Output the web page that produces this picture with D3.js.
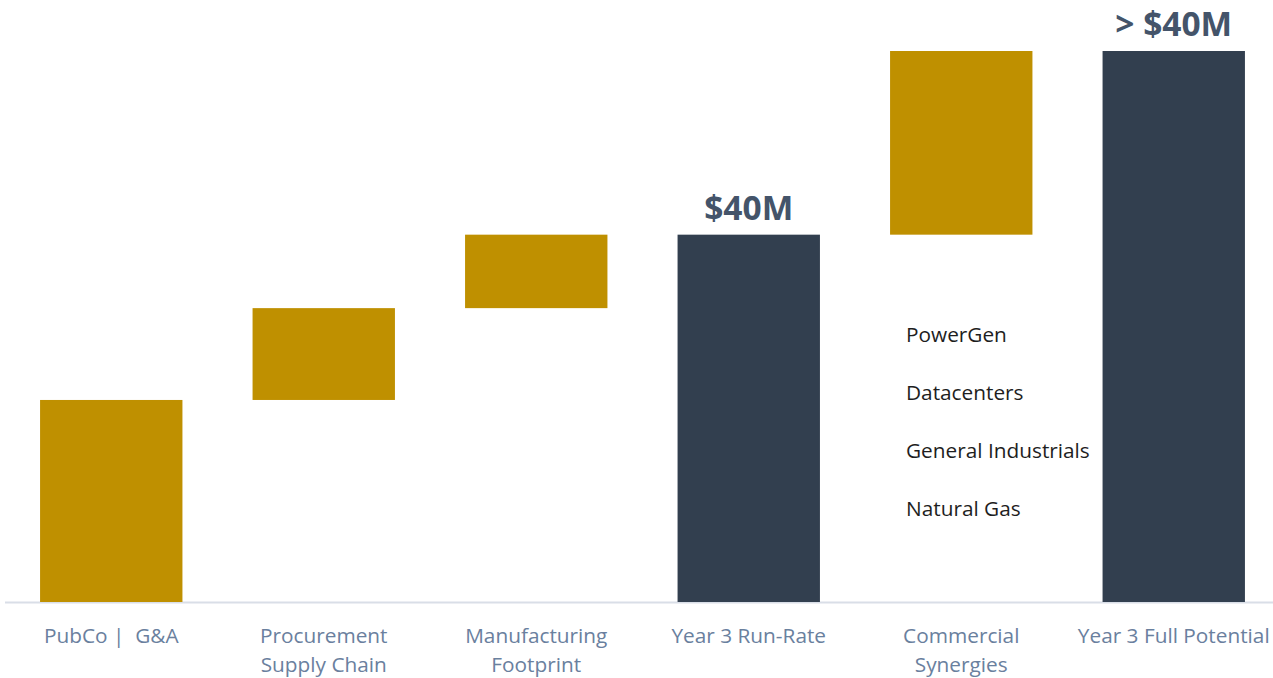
<!DOCTYPE html>
<html>
<head>
<meta charset="utf-8">
<script src="https://cdn.jsdelivr.net/npm/d3@7"></script>
<style>
  html, body { margin: 0; padding: 0; background: #fff; }
  svg { display: block; font-family: "Open Sans", "Noto Sans", sans-serif; }
</style>
</head>
<body>
<svg id="chart" width="1273" height="678"></svg>
<script>
// waterfall steps ($M); totals are drawn from zero
var categories = ['PubCo |  G&A', 'Procurement\nSupply Chain', 'Manufacturing\nFootprint',
                  'Year 3 Run-Rate', 'Commercial\nSynergies', 'Year 3 Full Potential'];
var stepValues = [22, 10, 8, null, 20, null];   // null = running total bar
var totalLabels = ['', '', '', '$40M', '', '> $40M'];
var synergyItems = ['PowerGen', 'Datacenters', 'General Industrials', 'Natural Gas'];

var svg = d3.select('#chart'),
    W = 1273, H = 678,
    baseY = 602;

// build floating bars from the steps
var running = 0,
    bars = categories.map(function(cat, i) {
      var v = stepValues[i];
      if (v === null) return { cat: cat, y0: 0, y1: running, total: true, label: totalLabels[i] };
      var b = { cat: cat, y0: running, y1: running + v, total: false, label: totalLabels[i] };
      running += v;
      return b;
    });

var x = d3.scaleBand()
      .domain(categories)
      .range([5, 1280])
      .paddingInner(0.33)
      .paddingOuter(0.165),

    y = d3.scaleLinear()
      .domain([0, 60])
      .range([baseY, 51]);

// baseline
svg.append('line')
  .attr('x1', 5).attr('x2', W)
  .attr('y1', baseY + 0.5).attr('y2', baseY + 0.5)
  .attr('stroke', '#d9dee7')
  .attr('stroke-width', 2);

svg.append('g')
  .selectAll('rect')
  .data(bars)
  .enter()
    .append('rect')
    .attr('x', function(d) { return x(d.cat); })
    .attr('width', x.bandwidth())
    .attr('y', function(d) { return y(d.y1); })
    .attr('height', function(d) { return y(d.y0) - y(d.y1); })
    .attr('fill', function(d) { return d.total ? '#323f4f' : '#bf9000'; });

// value labels on totals
svg.append('g')
  .selectAll('text')
  .data(bars.filter(function(d) { return d.label; }))
  .enter()
    .append('text')
    .attr('x', function(d) { return x(d.cat) + x.bandwidth() / 2; })
    .attr('y', function(d) { return y(d.y1) - 15; })
    .attr('text-anchor', 'middle')
    .attr('font-size', 33.5)
    .attr('font-weight', 700)
    .attr('fill', '#44546a')
    .text(function(d) { return d.label; });

// category labels, split on newline
var cats = svg.append('g')
  .selectAll('text')
  .data(categories)
  .enter()
    .append('text')
    .attr('x', function(d) { return x(d) + x.bandwidth() / 2; })
    .attr('y', 643)
    .attr('text-anchor', 'middle')
    .attr('font-size', 20.8)
    .attr('fill', '#6a809e');

cats.selectAll('tspan')
  .data(function(d) { return d.split('\n'); })
  .enter()
    .append('tspan')
    .attr('x', function() { return d3.select(this.parentNode).attr('x'); })
    .attr('dy', function(d, i) { return i ? 29 : 0; })
    .style('white-space', 'pre')
    .text(function(d) { return d; });

// synergy list next to the commercial bar
var listY = d3.scaleLinear().domain([0, synergyItems.length - 1]).range([342, 516]);

svg.append('g')
  .selectAll('text')
  .data(synergyItems)
  .enter()
    .append('text')
    .attr('x', 906)
    .attr('y', function(d, i) { return listY(i); })
    .attr('font-size', 20.8)
    .attr('fill', '#1e1e1e')
    .text(function(d) { return d; });
</script>
</body>
</html>
